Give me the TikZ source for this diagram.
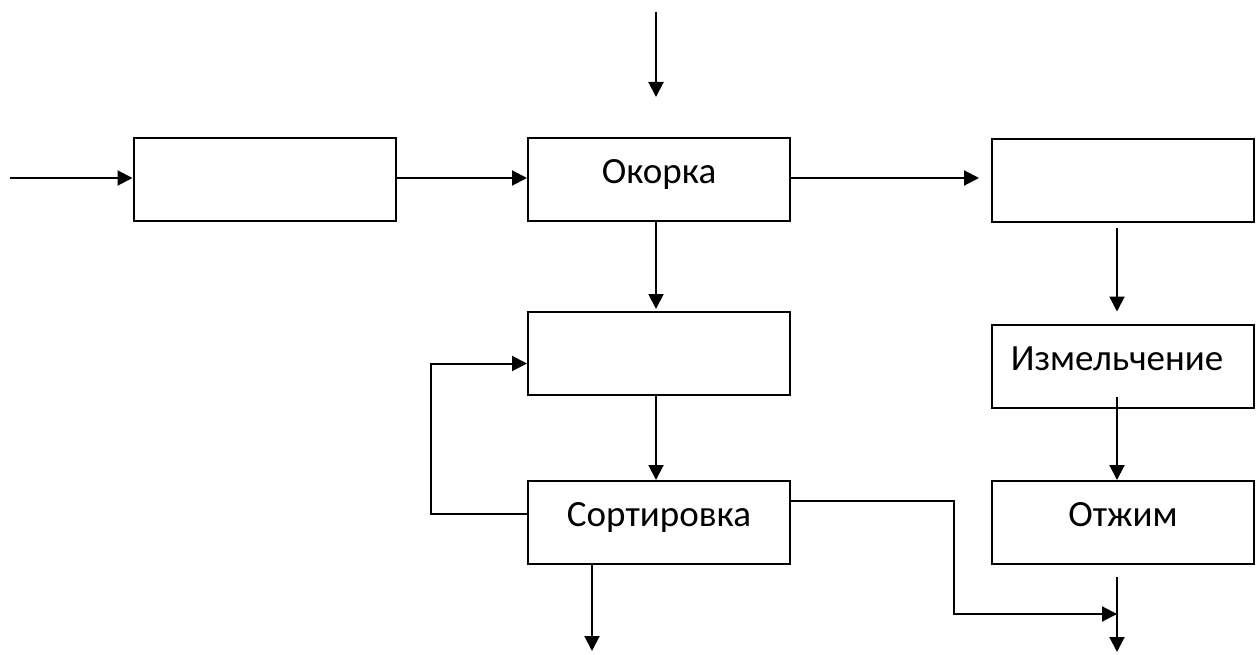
\documentclass[tikz,border=0pt]{standalone}
\usepackage{fontspec}
\setmainfont{Carlito}
\usetikzlibrary{arrows.meta}
\begin{document}
\begin{tikzpicture}[x=1pt,y=-1pt,
  box/.style={draw,line width=2pt,minimum width=262pt,minimum height=83pt,inner sep=0pt,
    text height=20pt,text depth=12pt,font=\fontsize{37}{44}\selectfont},
  arr/.style={line width=2pt,-{Triangle[length=15pt,width=15pt]}},
  ln/.style={line width=2pt}]
\useasboundingbox (0,0) rectangle (1256,655);
\node[box] (lb) at (264.5,180) {};
\node[box] (ok) at (659,180) {Окорка};
\node[box] (rb) at (1123,180.5) {};
\node[box] (mid) at (659,353.5) {};
\node[box] (izm) at (1123,366) {Измельчение\kern12pt};
\node[box] (sort) at (659,522.5) {Сортировка};
\node[box] (otz) at (1123,522.5) {Отжим};
\coordinate (topin) at (656,12);
\coordinate (leftin) at (10,178);
\draw[arr] (topin) -- (656,97);
\draw[arr] (leftin) -- (lb.west |- leftin);
\draw[arr] (lb.east |- leftin) -- (ok.west |- leftin);
\draw[arr,shorten >=12pt] (ok.east |- leftin) -- (rb.west |- leftin);
\draw[arr,shorten >=2pt] (ok.south -| topin) -- (mid.north -| topin);
\draw[arr] (mid.south -| topin) -- (sort.north -| topin);
\coordinate (rx) at (1117,0);
\draw[arr,shorten <=5pt,shorten >=12pt] (rb.south -| rx) -- (izm.north -| rx);
\draw[arr,shorten <=-12pt] (izm.south -| rx) -- (otz.north -| rx);
\coordinate (fb) at (431,0);
\draw[arr] ([yshift=9pt]sort.west) -- ([yshift=9pt]sort.west -| fb) |- ([yshift=-10pt]mid.west);
\coordinate (sx) at (592,0);
\coordinate (sb) at (592,651);
\draw[arr] (sort.south -| sx) -- (sb);
\coordinate (j) at (1117,614);
\draw[arr] ([yshift=22pt]sort.east) -- ++(162.5,0) |- (j);
\coordinate (ob) at (1117,655);
\draw[arr,shorten <=12pt] (otz.south -| rx) -- ([yshift=3pt]ob);
\end{tikzpicture}
\end{document}
